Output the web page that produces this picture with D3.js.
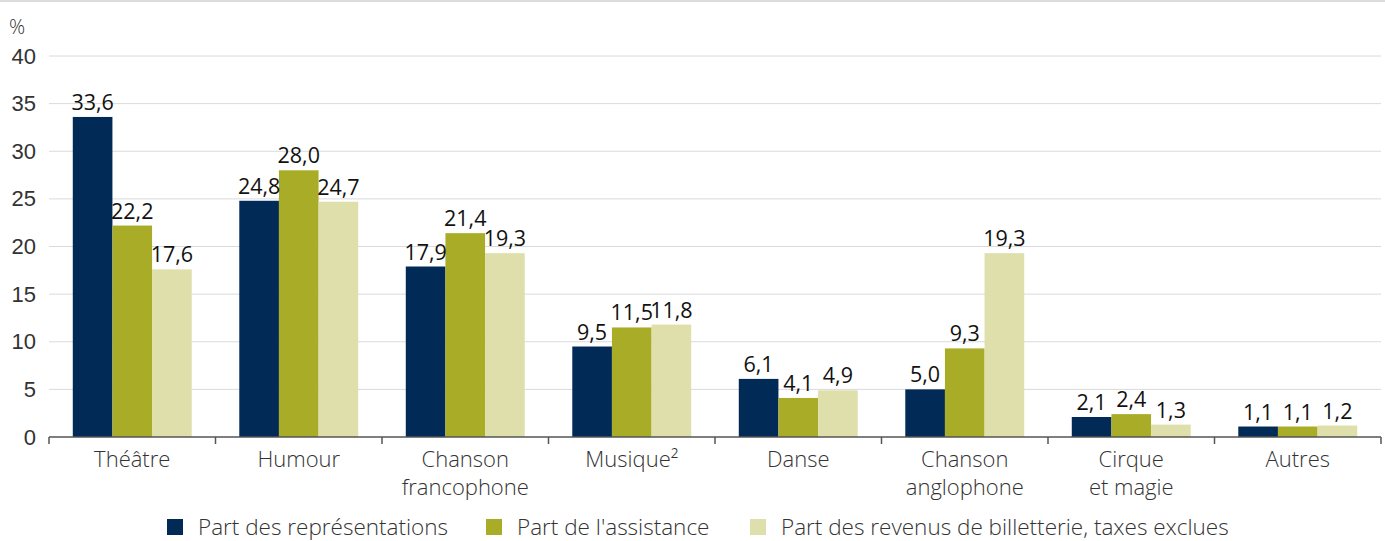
<!DOCTYPE html>
<html>
<head>
<meta charset="utf-8">
<script src="https://cdn.jsdelivr.net/npm/d3@7"></script>
<style>
  body { margin: 0; background: #fff; }
  svg { display: block; font-family: 'Open Sans', sans-serif; }
  .tick text { font-size: 22px; fill: #333; font-weight: 300; }
  .valueLabel { font-size: 21.5px; fill: #111; }
  .catText { font-size: 22px; fill: #333; font-weight: 300; }
  .legendText { font-size: 22.5px; fill: #333; font-weight: 300; }
</style>
</head>
<body>
<svg id="chart" width="1385" height="541"></svg>
<script>
const categories = [
  ['Théâtre'],
  ['Humour'],
  ['Chanson', 'francophone'],
  ['Musique²'],
  ['Danse'],
  ['Chanson', 'anglophone'],
  ['Cirque', 'et magie'],
  ['Autres']
];
const seriesNames = [
  'Part des représentations',
  "Part de l'assistance",
  'Part des revenus de billetterie, taxes exclues'
];
const representations = [33.6, 24.8, 17.9, 9.5, 6.1, 5.0, 2.1, 1.1];
const assistance = [22.2, 28.0, 21.4, 11.5, 4.1, 9.3, 2.4, 1.1];
const revenus = [17.6, 24.7, 19.3, 11.8, 4.9, 19.3, 1.3, 1.2];
const yTicks = [0, 5, 10, 15, 20, 25, 30, 35, 40];

const width = 1385;
const height = 541;
const margin = { left: 49, right: 4, top: 56, bottom: 104 };

const seriesData = [representations, assistance, revenus];
const colors = ['#012a56', '#a9ac27', '#dedfaa'];

const svg = d3.select('#chart');

// thin band across the top
svg.append('rect')
  .attr('x', 0).attr('y', 0)
  .attr('width', width).attr('height', 2)
  .attr('fill', '#dcdcdc');

const catKeys = categories.map((c, i) => i);

const xscale = d3.scaleBand()
  .domain(catKeys)
  .range([margin.left, width - margin.right])
  .paddingInner(0)
  .paddingOuter(0);

const inner = d3.scaleBand()
  .domain([0, 1, 2])
  .range([0, xscale.bandwidth()])
  .paddingOuter(0.6)
  .paddingInner(0);

const yscale = d3.scaleLinear()
  .domain([0, 40])
  .range([height - margin.bottom, margin.top]);

// gridlines
svg.append('g')
  .selectAll('line')
  .data(yTicks.filter(d => d > 0))
  .enter().append('line')
  .attr('x1', margin.left)
  .attr('x2', width - margin.right)
  .attr('y1', d => yscale(d))
  .attr('y2', d => yscale(d))
  .attr('stroke', '#dadada')
  .attr('stroke-width', 1);

// y axis labels
const leftAxis = d3.axisLeft(yscale)
  .tickValues(yTicks)
  .tickSize(0)
  .tickPadding(13)
  .tickFormat(d3.format('d'));

const yAxisG = svg.append('g')
  .attr('transform', `translate(${margin.left}, 0)`)
  .call(leftAxis);
yAxisG.select('.domain').remove();

svg.append('text')
  .attr('x', 9)
  .attr('y', 34)
  .attr('class', 'catText')
  .style('font-size', '20px')
  .text('%');

// bars
const groups = svg.append('g')
  .selectAll('g')
  .data(seriesData)
  .enter().append('g')
  .attr('fill', (d, i) => colors[i]);

groups.selectAll('rect')
  .data((d, s) => d.map((v, c) => ({ v, c, s })))
  .enter().append('rect')
  .attr('x', d => xscale(d.c) + inner(d.s))
  .attr('y', d => yscale(d.v))
  .attr('width', inner.bandwidth())
  .attr('height', d => yscale(0) - yscale(d.v));

const fmt = v => d3.format('.1f')(v).replace('.', ',');

svg.append('g')
  .selectAll('text')
  .data(seriesData.flatMap((d, s) => d.map((v, c) => ({ v, c, s }))))
  .enter().append('text')
  .attr('class', 'valueLabel')
  .attr('text-anchor', 'middle')
  .attr('x', d => xscale(d.c) + inner(d.s) + inner.bandwidth() / 2)
  .attr('y', d => yscale(d.v) - 7)
  .text(d => fmt(d.v));

// x axis
const bottomAxis = d3.axisBottom(xscale)
  .tickSize(0)
  .tickFormat('');

const xAxisG = svg.append('g')
  .attr('transform', `translate(0, ${yscale(0)})`)
  .call(bottomAxis);
xAxisG.select('.domain')
  .attr('stroke', '#555')
  .attr('stroke-width', 1.5)
  .attr('d', `M${margin.left},0H${width - margin.right}`);

// boundary ticks between categories
xAxisG.append('g')
  .selectAll('line')
  .data(d3.range(categories.length + 1))
  .enter().append('line')
  .attr('x1', i => margin.left + i * xscale.bandwidth())
  .attr('x2', i => margin.left + i * xscale.bandwidth())
  .attr('y1', 0)
  .attr('y2', 7)
  .attr('stroke', '#555')
  .attr('stroke-width', 1.5);

// category labels
const catLabels = svg.append('g')
  .selectAll('text')
  .data(categories)
  .enter().append('text')
  .attr('class', 'catText')
  .attr('text-anchor', 'middle')
  .attr('x', (d, i) => xscale(i) + xscale.bandwidth() / 2)
  .attr('y', yscale(0) + 30);

catLabels.selectAll('tspan')
  .data(d => d)
  .enter().append('tspan')
  .attr('x', function () { return d3.select(this.parentNode).attr('x'); })
  .attr('dy', (d, i) => i === 0 ? 0 : 28)
  .text(d => d);

// legend
const legendX = [167, 486, 750];
const legend = svg.append('g');

legend.selectAll('rect')
  .data(seriesNames)
  .enter().append('rect')
  .attr('x', (d, i) => legendX[i])
  .attr('y', 519)
  .attr('width', 16)
  .attr('height', 16)
  .attr('fill', (d, i) => colors[i]);

legend.selectAll('text')
  .data(seriesNames)
  .enter().append('text')
  .attr('class', 'legendText')
  .attr('x', (d, i) => legendX[i] + 31)
  .attr('y', 535)
  .text(d => d);
</script>
</body>
</html>
